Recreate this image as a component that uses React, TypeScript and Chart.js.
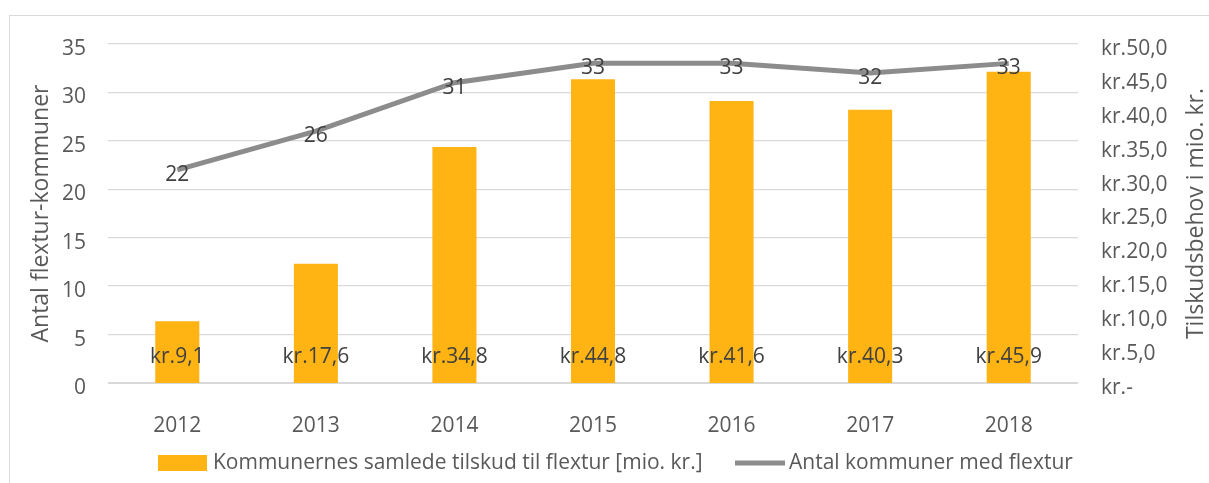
import React, { useEffect, useRef } from "react";
import { Chart, registerables } from "chart.js";

Chart.register(...registerables);

const categories = ["2012", "2013", "2014", "2015", "2016", "2017", "2018"];
const subsidyValues = [9.1, 17.6, 34.8, 44.8, 41.6, 40.3, 45.9];
const municipalityCounts = [22, 26, 31, 33, 33, 32, 33];
const barLegend = "Kommunernes samlede tilskud til flextur [mio. kr.]";
const lineLegend = "Antal kommuner med flextur";
const leftTitle = "Antal flextur-kommuner";
const rightTitle = "Tilskudsbehov i mio. kr.";

const FONT = "'Open Sans', 'Noto Sans', sans-serif";
const BAR_COLOR = "#FFB414";
const LINE_COLOR = "#8C8C8C";
const TEXT = "#595959";
const LABEL = "#404040";
const FS = 21;
const TS = 23;

const fmtKr = (v: number) => (v === 0 ? "kr.-" : "kr." + v.toFixed(1).replace(".", ","));

const overlayPlugin = {
  id: "overlay",
  afterDatasetsDraw(chart: any) {
    const ctx = chart.ctx;
    const area = chart.chartArea;
    ctx.save();
    ctx.font = `${FS}px ${FONT}`;
    ctx.fillStyle = LABEL;
    ctx.textAlign = "center";
    ctx.textBaseline = "middle";
    const barMeta = chart.getDatasetMeta(1);
    barMeta.data.forEach((el: any, i: number) => {
      ctx.fillText(fmtKr(subsidyValues[i]), el.x, area.bottom - 26);
    });
    const lineMeta = chart.getDatasetMeta(0);
    lineMeta.data.forEach((el: any, i: number) => {
      ctx.fillText(String(municipalityCounts[i]), el.x, el.y + 5);
    });
    ctx.restore();
  },
  afterDraw(chart: any) {
    const ctx = chart.ctx;
    const area = chart.chartArea;
    ctx.save();
    ctx.font = `${TS}px ${FONT}`;
    ctx.fillStyle = TEXT;
    ctx.textAlign = "center";
    ctx.textBaseline = "middle";
    ctx.translate(1196, (area.top + area.bottom) / 2);
    ctx.rotate(-Math.PI / 2);
    ctx.fillText(rightTitle, 0, 0);
    ctx.restore();

    ctx.save();
    const ly = 463;
    ctx.fillStyle = BAR_COLOR;
    ctx.fillRect(158, ly - 8, 49, 16);
    ctx.font = `${FS}px ${FONT}`;
    ctx.fillStyle = TEXT;
    ctx.textAlign = "left";
    ctx.textBaseline = "middle";
    ctx.fillText(barLegend, 213, ly);
    ctx.strokeStyle = LINE_COLOR;
    ctx.lineWidth = 5;
    ctx.beginPath();
    ctx.moveTo(735, ly);
    ctx.lineTo(785, ly);
    ctx.stroke();
    ctx.fillText(lineLegend, 789, ly);
    ctx.restore();
  },
};

export default function App() {
  const ref = useRef<HTMLCanvasElement | null>(null);
  useEffect(() => {
    if (!ref.current) return;
    const chart = new Chart(ref.current, {
      type: "bar",
      data: {
        labels: categories,
        datasets: [
          {
            type: "line",
            label: lineLegend,
            data: municipalityCounts,
            borderColor: LINE_COLOR,
            backgroundColor: LINE_COLOR,
            borderWidth: 5,
            pointRadius: 0,
            tension: 0,
            yAxisID: "y",
            order: 0,
          } as any,
          {
            type: "bar",
            label: barLegend,
            data: subsidyValues,
            backgroundColor: BAR_COLOR,
            categoryPercentage: 1,
            barPercentage: 0.318,
            yAxisID: "y1",
            order: 1,
          },
        ],
      },
      options: {
        responsive: false,
        animation: false,
        events: [],
        layout: { padding: { left: 28, right: 0, top: 44, bottom: 40 } },
        plugins: { legend: { display: false }, tooltip: { enabled: false } },
        scales: {
          x: {
            grid: { display: false },
            border: { display: false },
            ticks: { color: TEXT, font: { family: FONT, size: FS }, padding: 22 },
            afterFit: (s: any) => {
              s.height = 60;
            },
          },
          y: {
            position: "left",
            min: 0,
            max: 35,
            ticks: {
              stepSize: 5,
              color: TEXT,
              font: { family: FONT, size: FS },
              padding: 22,
              labelOffset: 5,
            },
            grid: {
              color: "#D9D9D9",
              lineWidth: (c: any) => (c.tick && c.tick.value === 0 ? 2 : 1.3),
              drawTicks: false,
            },
            border: { display: false },
            title: {
              display: true,
              text: leftTitle,
              color: TEXT,
              font: { family: FONT, size: TS },
              padding: 0,
            },
            afterFit: (s: any) => {
              s.width = 80;
            },
          },
          y1: {
            position: "right",
            min: 0,
            max: 50,
            ticks: {
              stepSize: 5,
              color: TEXT,
              font: { family: FONT, size: FS },
              padding: 23,
              labelOffset: 5,
              callback: (v: any) => fmtKr(Number(v)),
            },
            grid: { display: false, drawTicks: false },
            border: { display: false },
            afterFit: (s: any) => {
              s.width = 131;
            },
          },
        },
      } as any,
      plugins: [overlayPlugin],
    });
    return () => chart.destroy();
  }, []);

  return (
    <div style={{ position: "fixed", left: 0, top: 0, width: 1209, height: 483, background: "#fff", overflow: "hidden" }}>
      <div
        style={{
          position: "absolute",
          left: 9,
          top: 15,
          width: 1400,
          height: 700,
          border: "1px solid #D9D9D9",
          boxSizing: "border-box",
        }}
      />
      <canvas ref={ref} width={1209} height={483} style={{ position: "absolute", left: 0, top: 0 }} />
    </div>
  );
}
